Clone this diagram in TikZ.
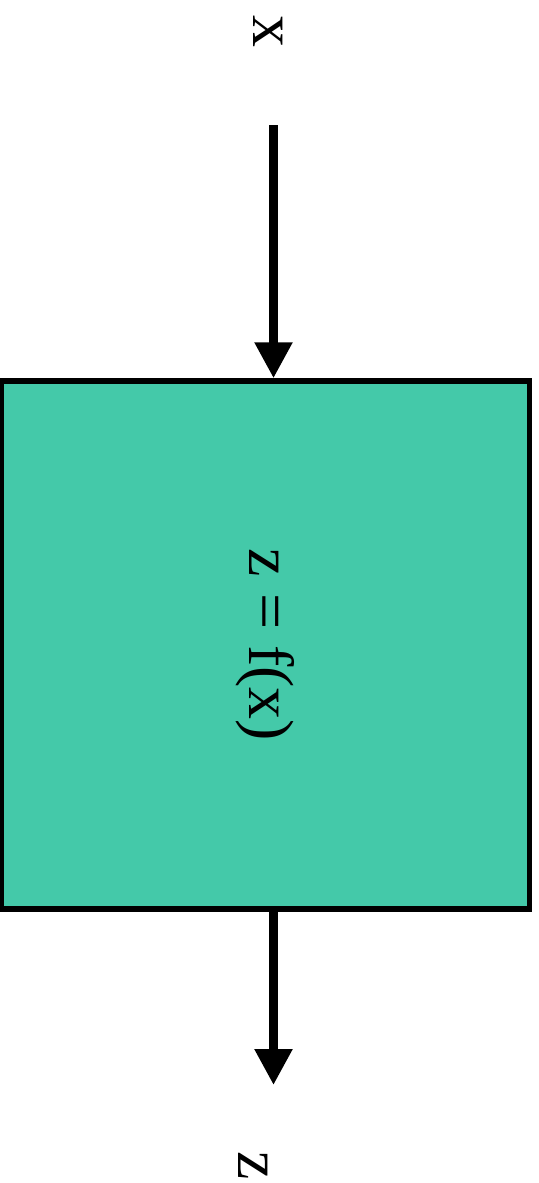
\documentclass[tikz,border=0pt]{standalone}
\usepackage{fontspec}
\setmainfont{Liberation Serif}
\usepackage{graphicx}
\usetikzlibrary{arrows.meta}
\definecolor{boxteal}{RGB}{68,201,169}
\tikzset{
    lbl/.style={font=\fontsize{64}{70}\selectfont, rotate=-90, inner sep=0pt},
    fbox/.style={draw=black, line width=5.5pt, fill=boxteal, minimum width=528pt, minimum height=528pt, font=\fontsize{64}{70}\selectfont},
    flow/.style={line width=8.5pt, -{Triangle[width=36pt,length=36pt]}}
}
\begin{document}
\begin{tikzpicture}[x=1pt,y=-1pt]
        \useasboundingbox (0,0) rectangle (538,1183);
        \node[lbl] (xin) at (268,31) {x};
        \coordinate (xtop) at (273.5,125);
        \node[fbox] (f) at (265.5,645) {\rotatebox{-90}{z = f(x)}};
        \coordinate (ztip) at (273.5,1085);
        \node[lbl] (zout) at (253,1166) {z};
        \draw[flow] (xtop) -- (xtop |- f.north);
        \draw[flow] (ztip |- f.south) -- (ztip);
    \end{tikzpicture}
\end{document}
